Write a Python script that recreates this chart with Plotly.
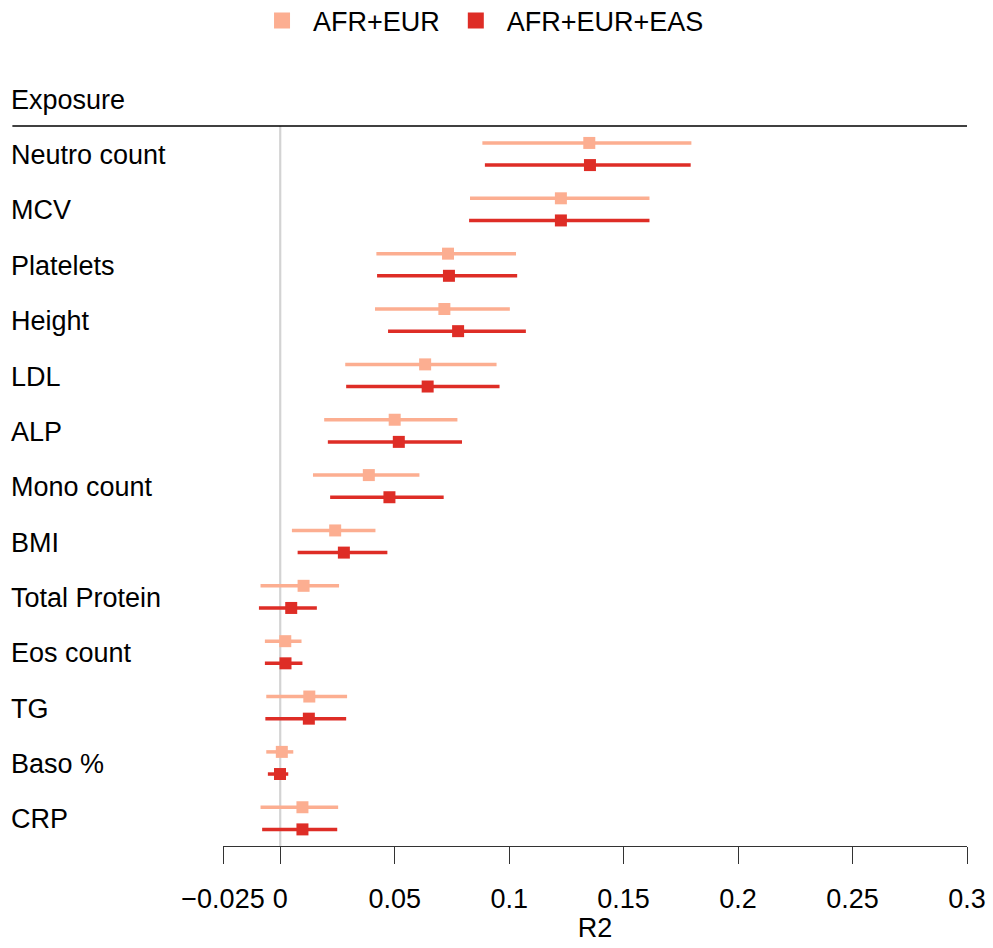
import plotly.graph_objects as go

exposures = ["Neutro count", "MCV", "Platelets", "Height", "LDL", "ALP", "Mono count",
             "BMI", "Total Protein", "Eos count", "TG", "Baso %", "CRP"]

# AFR+EUR
afr_eur_est = [0.1350, 0.1226, 0.0733, 0.0717, 0.0633, 0.0500, 0.0387, 0.0240, 0.0102, 0.0022, 0.0127, 0.0007, 0.0097]
afr_eur_lo  = [0.0883, 0.0829, 0.0420, 0.0414, 0.0284, 0.0192, 0.0143, 0.0051, -0.0086, -0.0067, -0.0061, -0.0061, -0.0086]
afr_eur_hi  = [0.1796, 0.1613, 0.1030, 0.1003, 0.0945, 0.0774, 0.0608, 0.0416, 0.0257, 0.0093, 0.0292, 0.0057, 0.0253]

# AFR+EUR+EAS
afr_eur_eas_est = [0.1353, 0.1226, 0.0737, 0.0777, 0.0644, 0.0518, 0.0477, 0.0278, 0.0048, 0.0023, 0.0125, -0.0001, 0.0097]
afr_eur_eas_lo  = [0.0894, 0.0825, 0.0423, 0.0471, 0.0288, 0.0208, 0.0218, 0.0076, -0.0093, -0.0067, -0.0065, -0.0054, -0.0079]
afr_eur_eas_hi  = [0.1793, 0.1613, 0.1035, 0.1073, 0.0958, 0.0794, 0.0714, 0.0468, 0.0160, 0.0097, 0.0288, 0.0035, 0.0249]

series_names = ["AFR+EUR", "AFR+EUR+EAS"]
series_colors = ["#FCAE91", "#DE2D26"]

tick_vals = [-0.025, 0, 0.05, 0.1, 0.15, 0.2, 0.25, 0.3]
tick_text = ["\u22120.025", "0", "0.05", "0.1", "0.15", "0.2", "0.25", "0.3"]

FONT = "Liberation Sans, Arial, sans-serif"
FS = 27
offset = 0.2

fig = go.Figure()

series = [(afr_eur_est, afr_eur_lo, afr_eur_hi), (afr_eur_eas_est, afr_eur_eas_lo, afr_eur_eas_hi)]
for k, (est, lo, hi) in enumerate(series):
    ys = [i + (-offset if k == 0 else offset) for i in range(len(exposures))]
    fig.add_trace(go.Scatter(
        x=est, y=ys, mode="markers",
        marker=dict(symbol="square", size=12, color=series_colors[k]),
        error_x=dict(type="data", symmetric=False,
                     array=[h - e for h, e in zip(hi, est)],
                     arrayminus=[e - l for e, l in zip(est, lo)],
                     color=series_colors[k], thickness=3.5, width=0),
        showlegend=False, hoverinfo="skip"))

for k in range(2):
    fig.add_trace(go.Scatter(x=[None], y=[None], mode="markers", name=series_names[k],
                             marker=dict(symbol="square", size=21, color=series_colors[k])))

LX = -0.2880
# labels
for i, lab in enumerate(exposures):
    fig.add_annotation(x=LX, xref="paper", y=i + 0.02, yref="y", text=lab, showarrow=False,
                       xanchor="left", yanchor="middle", font=dict(family=FONT, size=FS, color="black"))
fig.add_annotation(x=LX, xref="paper", y=1.036, yref="paper", text="Exposure", showarrow=False,
                   xanchor="left", yanchor="middle", font=dict(family=FONT, size=FS, color="black"))

# header line
fig.add_shape(type="line", xref="paper", yref="paper", x0=-0.2831, x1=1, y0=1, y1=1,
              line=dict(color="black", width=1.5))
# zero line
fig.add_shape(type="line", xref="x", yref="paper", x0=0, x1=0, y0=0, y1=1,
              line=dict(color="#d3d3d3", width=2.2), layer="below")

fig.update_layout(
    width=993, height=948,
    margin=dict(l=223, r=26, t=126, b=102, autoexpand=False),
    paper_bgcolor="white", plot_bgcolor="white",
    font=dict(family=FONT, size=FS, color="black"),
    showlegend=True,
    legend=dict(orientation="h", xref="container", yref="container",
                x=0.2528, xanchor="left", y=0.978, yanchor="middle",
                font=dict(family=FONT, size=FS), itemwidth=52, bgcolor="rgba(0,0,0,0)"),
    xaxis=dict(range=[-0.025, 0.3], tickvals=tick_vals, ticktext=tick_text, automargin=False,
               showgrid=False, zeroline=False, showline=True, linecolor="#333", linewidth=1.2,
               ticks="outside", ticklen=17, tickcolor="#333", tickwidth=1.2,
               ticklabelstandoff=11,
               tickfont=dict(family=FONT, size=FS, color="black"),
               title=dict(text="R2", font=dict(family=FONT, size=FS, color="black"), standoff=4)),
    yaxis=dict(range=[12.5, -0.506], showgrid=False, zeroline=False, showline=False,
               showticklabels=False, ticks="", automargin=False),
)

fig.write_html("out.html")
